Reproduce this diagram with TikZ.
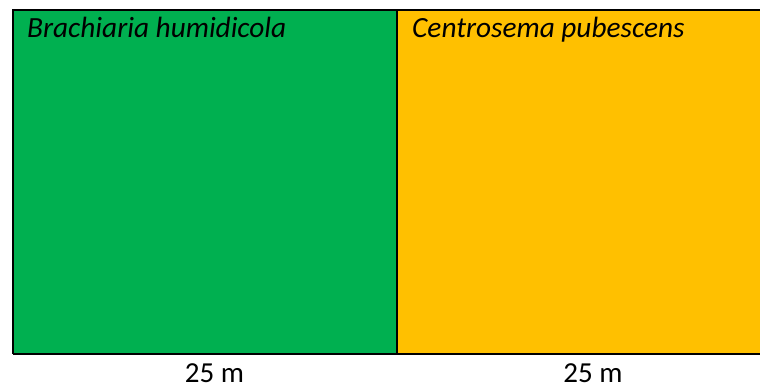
\documentclass[tikz,border=0pt]{standalone}
\usepackage{fontspec}
\setmainfont{Carlito}
\definecolor{plotgreen}{HTML}{00B050}
\definecolor{plotyellow}{HTML}{FFC000}
\begin{document}
\begin{tikzpicture}[x=1pt,y=-1pt,
  plot/.style={draw=black,line width=2pt},
  plotlabel/.style={anchor=base west,inner sep=0pt,font=\fontsize{29.3}{34}\selectfont\itshape},
  dimlabel/.style={anchor=base,inner sep=0pt,font=\fontsize{29}{34}\selectfont}]
\useasboundingbox (0,0) rectangle (760,383);
\fill[plotgreen] (13,10) rectangle (397,354);
\fill[plotyellow] (397,10) rectangle (760,354);
\draw[plot] (13,354) -- (13,10) -- (760,10);
\draw[plot] (13,354) -- (760,354);
\draw[plot] (397,10) -- (397,354);
\node[plotlabel] (b) at (27,37.5) {Brachiaria humidicola};
\node[plotlabel] (c) at (412,37.5) {Centrosema pubescens};
\node[dimlabel] (d1) at (214.5,382) {25 m};
\node[dimlabel] (d2) at (593,382) {25 m};
\end{tikzpicture}
\end{document}
